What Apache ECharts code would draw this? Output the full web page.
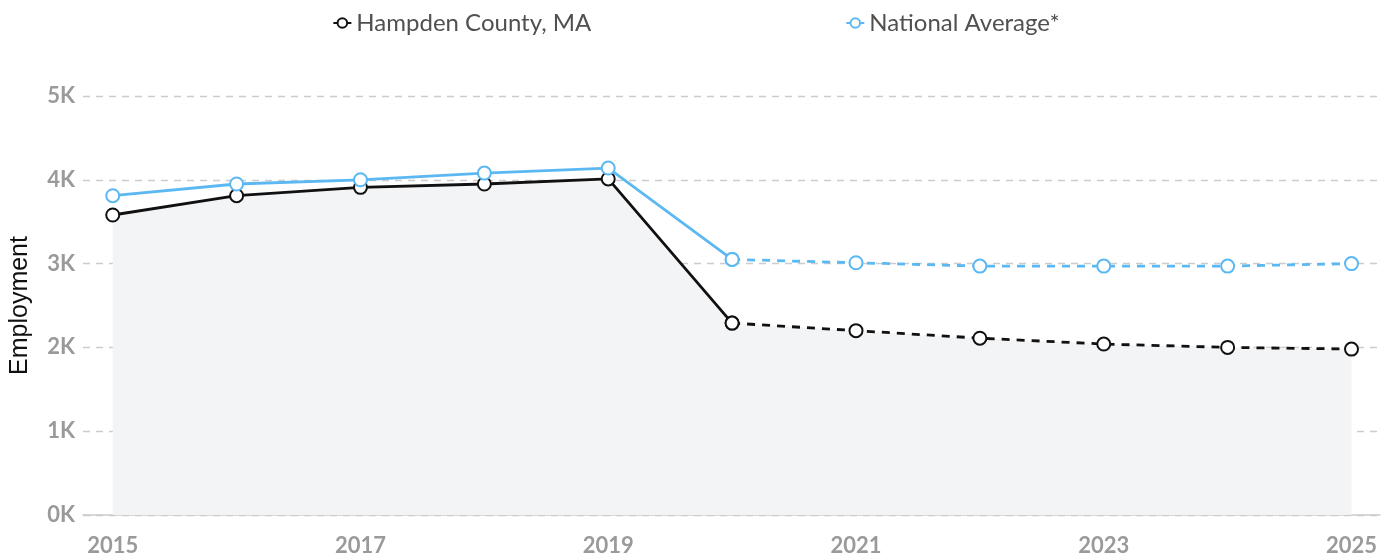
<!DOCTYPE html>
<html><head><meta charset="utf-8">
<script src="https://cdn.jsdelivr.net/npm/echarts@6/dist/echarts.min.js"></script>
<style>html,body{margin:0;padding:0;background:#fff}#c{width:1392px;height:560px}</style>
</head><body><div id="c"></div>
<script>
const years = [2015,2016,2017,2018,2019,2020,2021,2022,2023,2024,2025];
const hampden = [3580,3810,3910,3950,4010,2290,2200,2110,2040,2000,1980];
const national = [3810,3950,4000,4080,4140,3050,3010,2970,2970,2970,3000];
const splitIndex = 5; // actual data through 2020, projected after
const xTickLabels = [2015,2017,2019,2021,2023,2025];
const yTickLabels = ['0K','1K','2K','3K','4K','5K'];

const pairs = (vals, from, to) => years.slice(from, to).map((y, i) => [y, vals[from + i]]);
const BLACK = '#111111', BLUE = '#5cb8f2';
const font = 'Lato, "Open Sans", sans-serif';

function lineSeries(name, color, data, dashed, area) {
  const s = {
    name, type: 'line', data, symbol: 'emptyCircle', symbolSize: 13,
    lineStyle: { color, width: 2.8, type: dashed ? [8, 7] : 'solid' },
    itemStyle: { color, borderColor: color, borderWidth: 3 },
    emphasis: { disabled: true }, z: color === BLACK ? 3 : 4
  };
  if (area) s.areaStyle = { color: '#f3f4f6', opacity: 1 };
  return s;
}

const chart = echarts.init(document.getElementById('c'));
chart.setOption({
  animation: false,
  legend: {
    top: 6, left: 'center', itemGap: 254, itemWidth: 18, itemHeight: 12,
    textStyle: { fontFamily: font, fontSize: 24, color: '#505050' },
    data: ['Hampden County, MA', 'National Average*']
  },
  grid: { left: 83, right: 12, top: 96, bottom: 45, outerBoundsMode: 'none', containLabel: false },
  xAxis: {
    type: 'value', min: 2014.76, max: 2025.23,
    axisLine: { show: true, lineStyle: { color: '#cccccc', width: 1.5 } },
    axisTick: { show: false },
    splitLine: { show: false },
    axisLabel: {
      customValues: xTickLabels, formatter: v => String(v),
      fontFamily: font, fontSize: 22, fontWeight: 'bold', color: '#9a9a9a', margin: 20
    }
  },
  yAxis: {
    type: 'value', min: 0, max: 5000, interval: 1000,
    name: 'Employment', nameLocation: 'middle', nameGap: 50, nameRotate: 90,
    nameTextStyle: { fontFamily: '"Liberation Sans", Arial, sans-serif', fontSize: 25, color: '#111' },
    axisLine: { show: false }, axisTick: { show: false },
    axisLabel: {
      formatter: v => yTickLabels[Math.round(v / 1000)],
      fontFamily: font, fontSize: 22, fontWeight: 'bold', color: '#9a9a9a', margin: 8
    },
    splitLine: { lineStyle: { color: '#cccccc', type: [7, 6], width: 1.3 } }
  },
  series: [
    lineSeries('Hampden County, MA', BLACK, pairs(hampden, 0, splitIndex + 1), false, true),
    lineSeries('Hampden County, MA', BLACK, pairs(hampden, splitIndex, years.length), true, true),
    lineSeries('National Average*', BLUE, pairs(national, 0, splitIndex + 1), false, false),
    lineSeries('National Average*', BLUE, pairs(national, splitIndex, years.length), true, false)
  ]
});
</script></body></html>
